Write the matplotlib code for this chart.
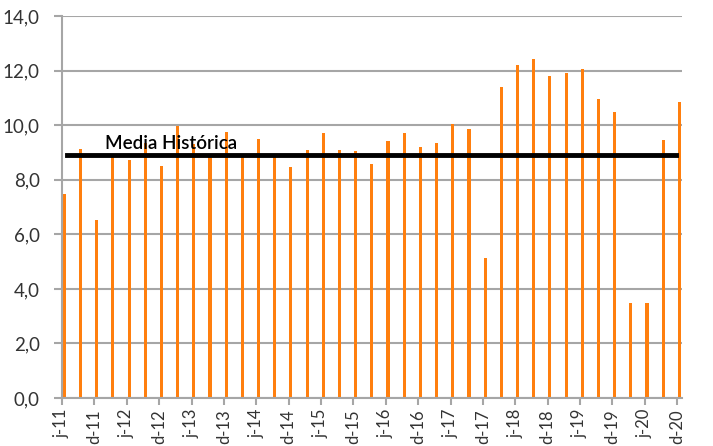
import matplotlib
matplotlib.use("Agg")
import matplotlib.pyplot as plt
import numpy as np

# trimestral, jun-2011 a dic-2020
valores = [7.47, 9.12, 6.52, 8.85, 8.72, 9.33, 8.51, 9.96, 9.30, 8.88,
           9.75, 8.96, 9.49, 8.92, 8.45, 9.08, 9.73, 9.08, 9.06, 8.57,
           9.41, 9.73, 9.21, 9.33, 10.05, 9.85, 5.15, 11.40, 12.19, 12.44,
           11.82, 11.90, 12.05, 10.95, 10.50, 3.47, 3.49, 9.45, 10.85]
etiquetas = ["j-11", "d-11", "j-12", "d-12", "j-13", "d-13", "j-14", "d-14",
             "j-15", "d-15", "j-16", "d-16", "j-17", "d-17", "j-18", "d-18",
             "j-19", "d-19", "j-20", "d-20"]
media_historica = 8.90

plt.rcParams['font.family'] = ['Lato', 'DejaVu Sans']
gris = "#a6a6a6"

fig = plt.figure(figsize=(7.13, 4.46), dpi=100)
ax = fig.add_axes([0.087, 0.1076, 0.8695, 0.8564])

x = np.arange(len(valores))
ax.bar(x + 0.14, valores, width=0.19, color="#ff7f0e", zorder=2)
ax.plot([0.33, 37.9], [media_historica, media_historica], color="black", lw=3.5, zorder=3)
ax.text(2.65, 9.12, "Media Histórica", fontsize=13.5, fontweight="semibold", color="black", zorder=4)

ax.set_xlim(0, 38.3)
ax.set_ylim(0, 14)
ax.set_yticks(np.arange(0, 15, 2))
ax.set_yticklabels([f"{v:.1f}".replace(".", ",") for v in np.arange(0, 15, 2)], fontsize=13.5, color="#333333")
ax.set_xticks(x[::2])
ax.set_xticklabels(etiquetas, rotation=90, fontsize=12, color="#333333")
ax.yaxis.grid(True, color=gris, lw=1.5, zorder=0)
ax.tick_params(axis="y", length=6, color=gris, width=1.5, pad=10)
ax.tick_params(axis="x", length=5, color=gris, width=1.5, pad=3)
for s in ["top", "right"]:
    ax.spines[s].set_visible(False)
for s in ["left", "bottom"]:
    ax.spines[s].set_color(gris)
    ax.spines[s].set_linewidth(1.5)

fig.savefig("out.png", dpi=100)
